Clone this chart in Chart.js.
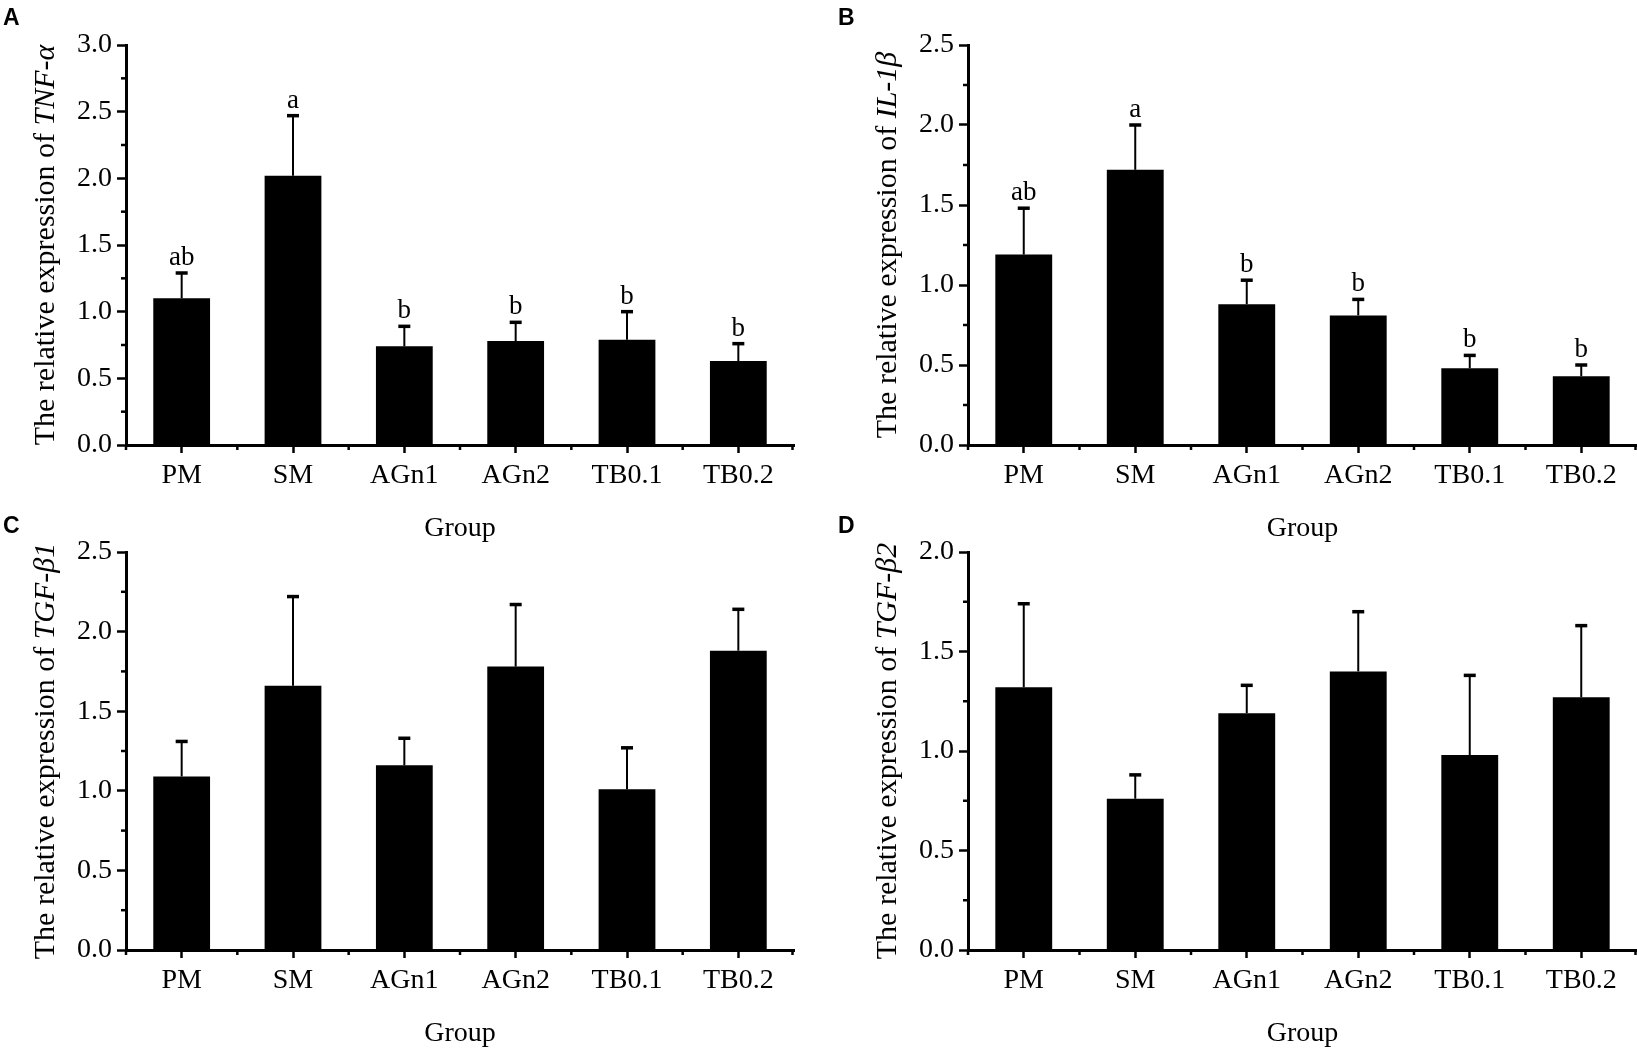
<!DOCTYPE html>
<html>
<head>
<meta charset="utf-8">
<script src="https://cdn.jsdelivr.net/npm/chart.js@4.4.1/dist/chart.umd.min.js"></script>
<style>
body { margin: 0; background: #fff; }
#wrap { position: relative; width: 1637px; height: 1052px; overflow: hidden; background: #fff; }
canvas { position: absolute; }
.tag { position: absolute; font: bold 23px "Liberation Sans", Arial, sans-serif; line-height: 1; color: #000; }
</style>
</head>
<body>
<div id="wrap">
  <canvas id="cA" width="818" height="552" style="left:0;top:0;width:818px;height:552px"></canvas>
  <canvas id="cB" width="819" height="552" style="left:818px;top:0;width:819px;height:552px"></canvas>
  <canvas id="cC" width="818" height="522" style="left:0;top:530px;width:818px;height:522px"></canvas>
  <canvas id="cD" width="819" height="522" style="left:818px;top:530px;width:819px;height:522px"></canvas>
  <div class="tag" style="left:3px;top:6px">A</div>
  <div class="tag" style="left:838px;top:6px">B</div>
  <div class="tag" style="left:3px;top:514px">C</div>
  <div class="tag" style="left:838px;top:514px">D</div>
</div>
<script>
// values (mean and SD per group)
var groups = ['PM', 'SM', 'AGn1', 'AGn2', 'TB0.1', 'TB0.2'];

var tnfMean = [1.10, 2.02, 0.74, 0.78, 0.79, 0.63];
var tnfErr = [0.19, 0.45, 0.15, 0.14, 0.21, 0.13];
var tnfSig = ['ab', 'a', 'b', 'b', 'b', 'b'];

var il1bMean = [1.19, 1.72, 0.88, 0.81, 0.48, 0.43];
var il1bErr = [0.29, 0.28, 0.15, 0.10, 0.08, 0.07];
var il1bSig = ['ab', 'a', 'b', 'b', 'b', 'b'];

var tgfb1Mean = [1.09, 1.66, 1.16, 1.78, 1.01, 1.88];
var tgfb1Err = [0.22, 0.56, 0.17, 0.39, 0.26, 0.26];

var tgfb2Mean = [1.32, 0.76, 1.19, 1.40, 0.98, 1.27];
var tgfb2Err = [0.42, 0.12, 0.14, 0.30, 0.40, 0.36];

var serif = '"Liberation Serif", "Times New Roman", serif';

// error bars, significance letters, minor ticks and the mixed-font y title
var extras = {
  id: 'extras',
  afterDatasetsDraw: function(chart, args, opts) {
    var ctx = chart.ctx;
    var ys = chart.scales.y;
    var meta = chart.getDatasetMeta(0);
    var vals = chart.data.datasets[0].data;
    ctx.save();
    ctx.strokeStyle = '#000';
    ctx.fillStyle = '#000';
    for (var i = 0; i < vals.length; i++) {
      var bx = meta.data[i].x;
      var yb = ys.getPixelForValue(vals[i]);
      var yt = ys.getPixelForValue(vals[i] + opts.err[i]);
      ctx.lineWidth = 2;
      ctx.beginPath();
      ctx.moveTo(bx, yb);
      ctx.lineTo(bx, yt);
      ctx.stroke();
      ctx.lineWidth = 3.5;
      ctx.beginPath();
      ctx.moveTo(bx - 6, yt);
      ctx.lineTo(bx + 6, yt);
      ctx.stroke();
      if (opts.sig) {
        ctx.font = '27px ' + serif;
        ctx.textAlign = 'center';
        ctx.textBaseline = 'alphabetic';
        ctx.fillText(opts.sig[i], bx, yt - 8);
      }
    }
    ctx.restore();
  },
  afterDraw: function(chart, args, opts) {
    var ctx = chart.ctx;
    var xs = chart.scales.x, ys = chart.scales.y, ca = chart.chartArea;
    ctx.save();
    ctx.strokeStyle = '#000';
    ctx.lineWidth = 2.5;
    // minor ticks between categories
    var n = chart.data.labels.length;
    var step = (xs.right - xs.left) / n;
    for (var i = 0; i <= n; i++) {
      var px = xs.left + i * step;
      if (i == n) px -= 1.5;
      ctx.beginPath();
      ctx.moveTo(px, ca.bottom);
      ctx.lineTo(px, ca.bottom + 5);
      ctx.stroke();
    }
    // minor ticks on y
    for (var v = 0.25; v < ys.max; v += 0.5) {
      var py = ys.getPixelForValue(v);
      ctx.beginPath();
      ctx.moveTo(ca.left, py);
      ctx.lineTo(ca.left - 5, py);
      ctx.stroke();
    }
    // y axis title
    var plain = 'The relative expression of ';
    ctx.fillStyle = '#000';
    ctx.translate(ca.left - 80, (ca.top + ca.bottom) / 2);
    ctx.rotate(-Math.PI / 2);
    ctx.textBaseline = 'middle';
    ctx.textAlign = 'left';
    ctx.font = '30px ' + serif;
    var w1 = ctx.measureText(plain).width;
    ctx.font = 'italic 30px ' + serif;
    var w2 = ctx.measureText(opts.gene).width;
    var x0 = -(w1 + w2) / 2;
    ctx.font = '30px ' + serif;
    ctx.fillText(plain, x0, 0);
    ctx.font = 'italic 30px ' + serif;
    ctx.fillText(opts.gene, x0 + w1, 0);
    ctx.restore();
  }
};

function makePanel(id, mean, err, sig, gene, yMax, cfg) {
  var ctx = document.getElementById(id);
  return new Chart(ctx, {
    type: 'bar',
    data: {
      labels: groups,
      datasets: [{
        data: mean,
        backgroundColor: '#000',
        borderWidth: 0,
        barPercentage: 0.51,
        categoryPercentage: 1
      }]
    },
    options: {
      responsive: false,
      animation: false,
      layout: { padding: { top: cfg.top, right: cfg.right, left: 0, bottom: 0 } },
      plugins: {
        legend: { display: false },
        tooltip: { enabled: false },
        extras: { err: err, sig: sig, gene: gene }
      },
      scales: {
        x: {
          offset: true,
          grid: { display: true, drawOnChartArea: false, drawTicks: true, tickLength: 8, tickWidth: 2.5, tickColor: '#000', offset: false },
          border: { display: true, color: '#000', width: 3 },
          ticks: { color: '#000', font: { family: serif, size: 28 }, padding: 6, maxRotation: 0 },
          title: { display: true, text: 'Group', color: '#000', font: { family: serif, size: 28 }, padding: { top: 0, bottom: cfg.titlePad } },
          afterFit: function(s) { s.height = cfg.xh; }
        },
        y: {
          min: 0,
          max: yMax,
          grid: { display: true, drawOnChartArea: false, drawTicks: true, tickLength: 9, tickWidth: 2.5, tickColor: '#000' },
          border: { display: true, color: '#000', width: 3 },
          ticks: {
            stepSize: 0.5,
            color: '#000',
            font: { family: serif, size: 28 },
            padding: 5,
            callback: function(v) { return Number(v).toFixed(1); }
          },
          afterFit: function(s) { s.width = cfg.yw; }
        }
      }
    },
    plugins: [extras]
  });
}

makePanel('cA', tnfMean, tnfErr, tnfSig, 'TNF-\u03b1', 3.0, { top: 45, right: 24, yw: 126, xh: 107, titlePad: 7 });
makePanel('cB', il1bMean, il1bErr, il1bSig, 'IL-1\u03b2', 2.5, { top: 45, right: 0, yw: 150, xh: 107, titlePad: 7 });
makePanel('cC', tgfb1Mean, tgfb1Err, null, 'TGF-\u03b21', 2.5, { top: 22, right: 24, yw: 126, xh: 102, titlePad: 2 });
makePanel('cD', tgfb2Mean, tgfb2Err, null, 'TGF-\u03b22', 2.0, { top: 22, right: 0, yw: 150, xh: 102, titlePad: 2 });
</script>
</body>
</html>
